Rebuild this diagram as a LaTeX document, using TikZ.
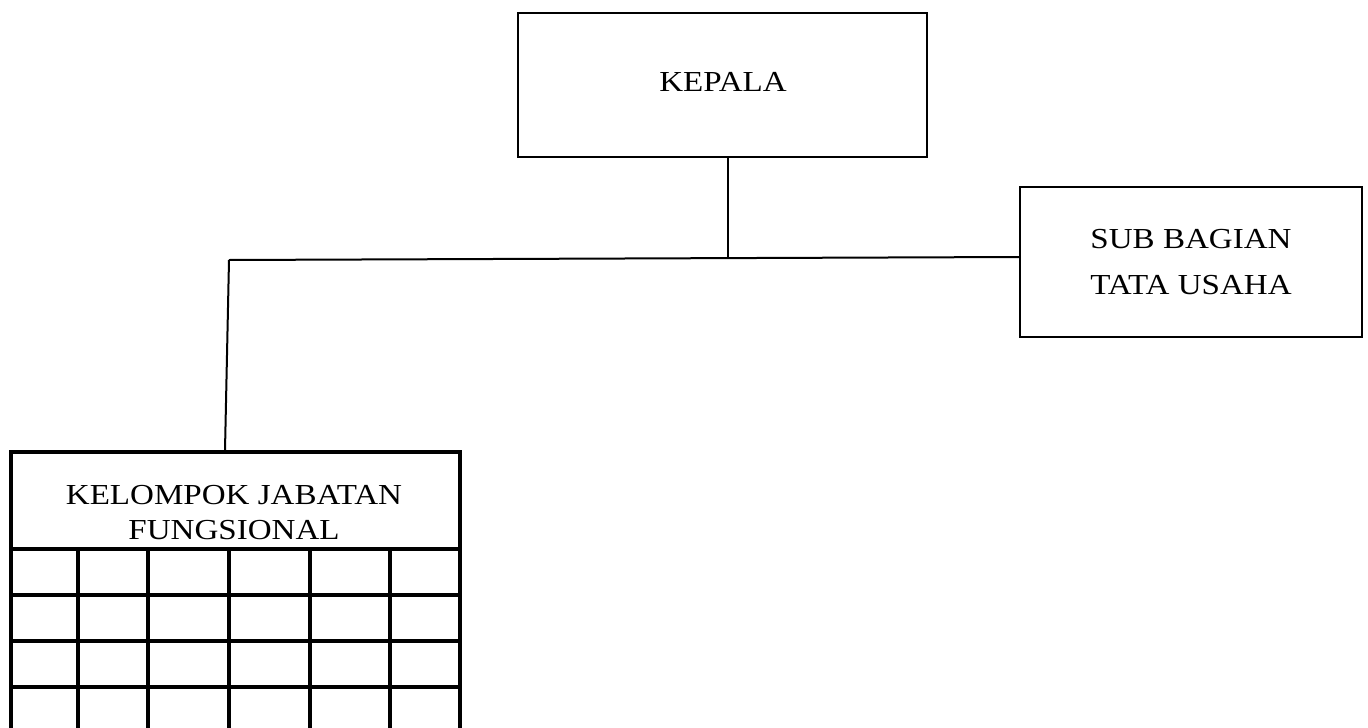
\documentclass[tikz,border=0pt]{standalone}
\usepackage{fontspec}
\setmainfont{Liberation Serif}[FakeStretch=1.14]
\begin{document}
\begin{tikzpicture}[x=1pt,y=-1pt,
  box/.style={draw,line width=2pt,rectangle,inner sep=0pt},
  conn/.style={line width=2pt},
  gridline/.style={line width=3.5pt},
  lbl/.style={font=\fontsize{29}{46}\selectfont,align=center,inner sep=0pt}]
\useasboundingbox (0,0) rectangle (1368,728);
\node[box,minimum width=409pt,minimum height=144pt] (kepala) at (722.5,85) {};
\node[lbl] (kepalatext) at (723,82) {KEPALA};
\node[box,minimum width=342pt,minimum height=150pt,lbl,draw,line width=2pt] (sub) at (1191,262) {SUB BAGIAN\\TATA USAHA};
\node[box,line width=3.5pt,minimum width=449pt,minimum height=97pt] (kjf) at (235.5,500.5) {};
\node[lbl,font=\fontsize{29}{35}\selectfont] (kjftext) at (234,513) {KELOMPOK JABATAN\\FUNGSIONAL};
\coordinate (jM) at (728,258);
\coordinate (jL) at (229,260);
\draw[conn] (jM |- kepala.south) -- (jM);
\draw[conn] (jL) -- ([yshift=5pt]sub.west);
\draw[conn] (jL) -- ([xshift=-10.5pt]kjf.north);
\foreach \x in {11,78,148,229,310,390,460}
  \draw[gridline] (\x,549) -- (\x,745);
\foreach \y in {595,641,687,734}
  \draw[gridline] (11,\y) -- (460,\y);
\end{tikzpicture}
\end{document}
